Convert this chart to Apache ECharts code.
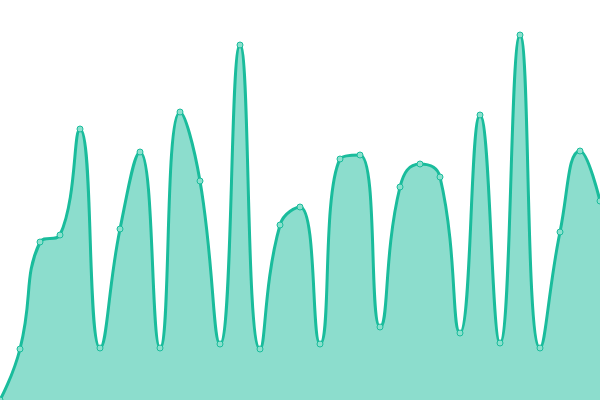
<!DOCTYPE html>
<html>
<head>
<meta charset="utf-8">
<script src="https://cdn.jsdelivr.net/npm/echarts@6/dist/echarts.min.js"></script>
<style>html,body{margin:0;padding:0;background:#fff}#c{width:600px;height:400px}</style>
</head>
<body>
<div id="c"></div>
<script>
var categories = ['0','1','2','3','4','5','6','7','8','9','10','11','12','13','14','15','16','17','18','19','20','21','22','23','24','25','26','27','28','29','30'];
var values = [0, 51, 158, 165, 271, 52, 171, 248, 52, 288, 219, 56, 355, 51, 175, 193, 56, 241, 245, 73, 213, 236, 223, 67, 285, 57, 365, 52, 168, 249, 199];

var chart = echarts.init(document.getElementById('c'), null, {renderer: 'canvas'});
chart.setOption({
  animation: false,
  grid: {left: 0, right: 0, top: 0, bottom: 0},
  xAxis: {type: 'category', data: categories, boundaryGap: false, show: false},
  yAxis: {type: 'value', min: 0, max: 400, show: false},
  series: [{
    type: 'line',
    data: values,
    smooth: true,
    symbol: 'circle',
    symbolSize: 6,
    lineStyle: {color: '#1abc9c', width: 3},
    itemStyle: {color: '#8be0cd', borderColor: '#1abc9c', borderWidth: 1},
    areaStyle: {color: '#1abc9c', opacity: 0.5}
  }]
});
</script>
</body>
</html>
